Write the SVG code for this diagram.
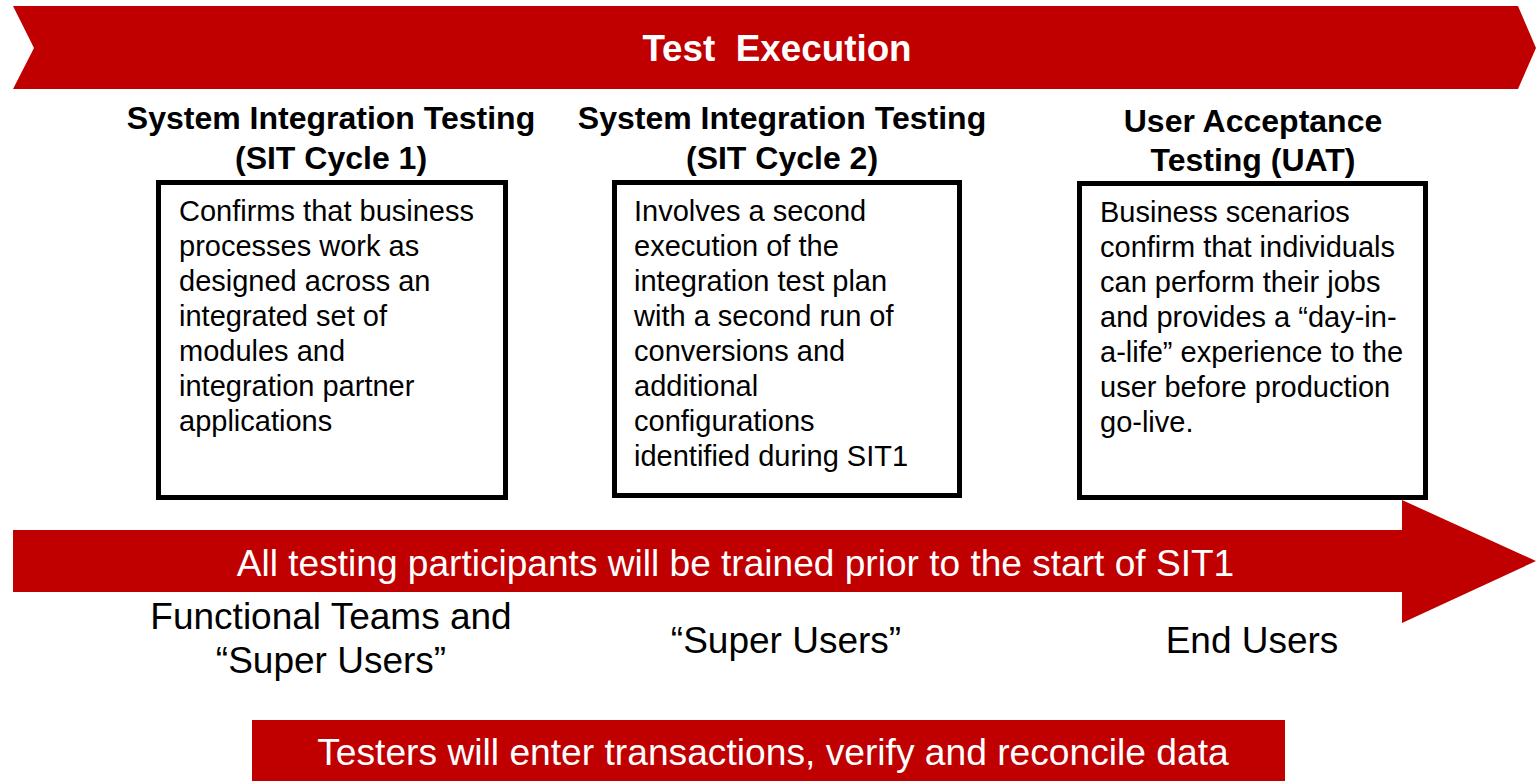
<svg xmlns="http://www.w3.org/2000/svg" width="1536" height="781" viewBox="0 0 1536 781">
<style>
.red{fill:#C00000}
.box{fill:#fff;stroke:#000;stroke-width:5}
.wt{font-family:"Liberation Sans",Arial,sans-serif;fill:#fff;white-space:pre}
.hd{font-family:"Liberation Sans",Arial,sans-serif;font-weight:bold;font-size:32px;fill:#000;text-anchor:middle}
.bd{font-family:"Liberation Sans",Arial,sans-serif;font-size:29px;fill:#000}
.lb{font-family:"Liberation Sans",Arial,sans-serif;font-size:37px;fill:#000;text-anchor:middle}
</style>
<rect width="1536" height="781" fill="#fff"/>
<g id="banner">
<polygon class="red" points="13,6 1518,6 1536,48 1518,89 13,89 34,48"/>
<text class="wt" x="777" y="61" font-size="36.8" font-weight="bold" text-anchor="middle">Test  Execution</text>
</g>
<g id="sit1">
<text class="hd" x="331" y="129">System Integration Testing</text>
<text class="hd" x="331" y="169">(SIT Cycle 1)</text>
<rect class="box" x="158.5" y="182.5" width="347" height="315"/>
<text class="bd" x="179" y="221">Confirms that business
<tspan x="179" dy="35">processes work as</tspan>
<tspan x="179" dy="35">designed across an</tspan>
<tspan x="179" dy="35">integrated set of</tspan>
<tspan x="179" dy="35">modules and</tspan>
<tspan x="179" dy="35">integration partner</tspan>
<tspan x="179" dy="35">applications</tspan></text>
</g>
<g id="sit2">
<text class="hd" x="782" y="129">System Integration Testing</text>
<text class="hd" x="782" y="169">(SIT Cycle 2)</text>
<rect class="box" x="614.5" y="182.5" width="345" height="313"/>
<text class="bd" x="634" y="221">Involves a second
<tspan x="634" dy="35">execution of the</tspan>
<tspan x="634" dy="35">integration test plan</tspan>
<tspan x="634" dy="35">with a second run of</tspan>
<tspan x="634" dy="35">conversions and</tspan>
<tspan x="634" dy="35">additional</tspan>
<tspan x="634" dy="35">configurations</tspan>
<tspan x="634" dy="35">identified during SIT1</tspan></text>
</g>
<g id="uat">
<text class="hd" x="1253" y="132">User Acceptance</text>
<text class="hd" x="1253" y="171">Testing (UAT)</text>
<rect class="box" x="1079.5" y="183.5" width="346" height="314"/>
<text class="bd" x="1100" y="222">Business scenarios
<tspan x="1100" dy="35">confirm that individuals</tspan>
<tspan x="1100" dy="35">can perform their jobs</tspan>
<tspan x="1100" dy="35">and provides a “day-in-</tspan>
<tspan x="1100" dy="35">a-life” experience to the</tspan>
<tspan x="1100" dy="35">user before production</tspan>
<tspan x="1100" dy="35">go-live.</tspan></text>
</g>
<g id="training-arrow">
<polygon class="red" points="13,530 1402,530 1402,500 1536,561 1402,623 1402,592 13,592"/>
<text class="wt" x="735.5" y="576" font-size="37.1" text-anchor="middle">All testing participants will be trained prior to the start of SIT1</text>
</g>
<g id="participants">
<text class="lb" x="331" y="629">Functional Teams and</text>
<text class="lb" x="331" y="673">“Super Users”</text>
<text class="lb" x="786" y="653">“Super Users”</text>
<text class="lb" x="1252" y="653">End Users</text>
</g>
<g id="testers">
<rect class="red" x="252" y="720" width="1033" height="61"/>
<text class="wt" x="773" y="765" font-size="37.2" text-anchor="middle">Testers will enter transactions, verify and reconcile data</text>
</g>
<g id="connectors"></g>
</svg>
